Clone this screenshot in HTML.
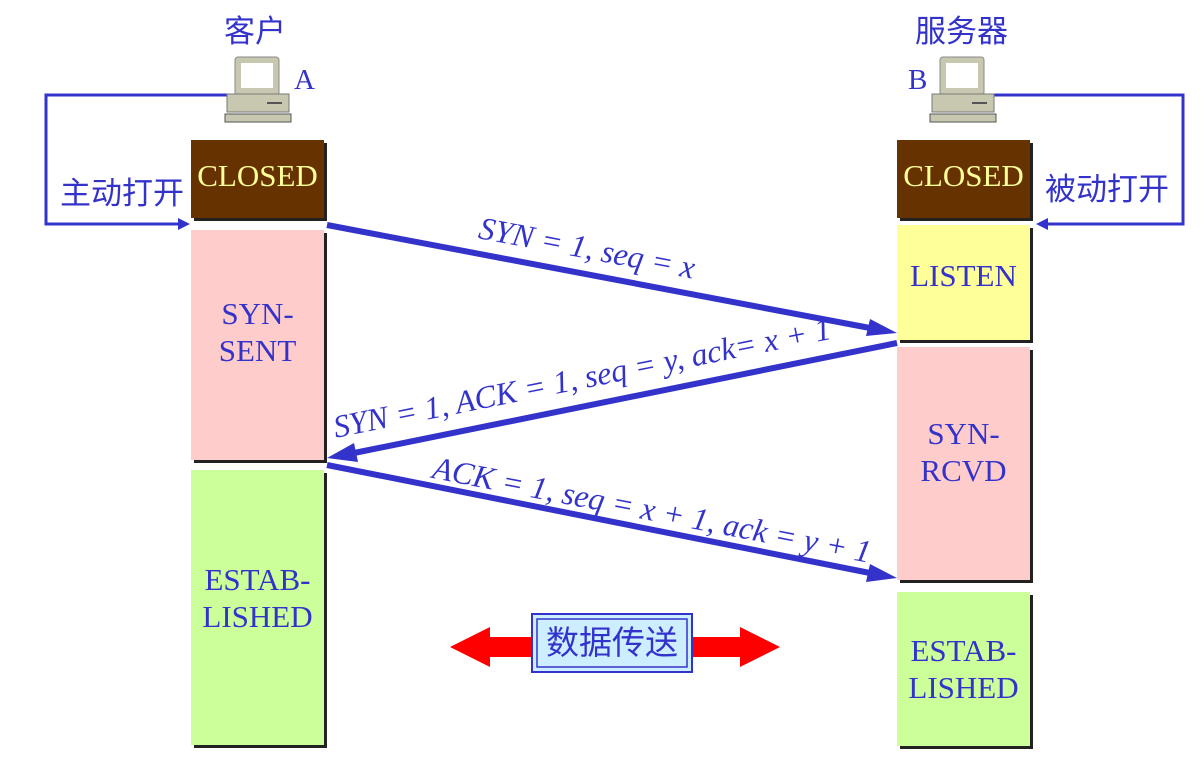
<!DOCTYPE html>
<html><head><meta charset="utf-8"><style>
body{margin:0;width:1203px;height:765px;background:#fff;position:relative;overflow:hidden;font-family:"Liberation Serif","Noto Serif CJK SC",serif;color:#3333cc}
.b{position:absolute;width:133px;box-shadow:3px 3px 0 #222;display:flex;align-items:center;justify-content:center;text-align:center;font-size:31px;line-height:37px;color:#3333cc;box-sizing:border-box}
.cn{position:absolute;font-family:"Liberation Sans","Noto Sans CJK SC",sans-serif;font-size:31px;line-height:36px;color:#3333cc}
.lbl{position:absolute;font-size:32px;font-style:italic;white-space:nowrap;width:0;height:0}
.lbl span{position:absolute;left:0;top:0;transform:translate(-50%,-50%) rotate(var(--r))}
</style></head><body>
<svg width="1203" height="765" style="position:absolute;left:0;top:0">
<polyline points="228,95 46,95 46,224 182,224" fill="none" stroke="#3333cc" stroke-width="3"/>
<path d="M190,224l-12,-6v12z" fill="#3333cc"/>
<polyline points="993,95 1183,95 1183,224 1044,224" fill="none" stroke="#3333cc" stroke-width="3"/>
<path d="M1036,224l12,-6v12z" fill="#3333cc"/>
<g stroke="#3333cc" stroke-width="6">
<line x1="327" y1="225" x2="870" y2="328"/>
<line x1="897" y1="343" x2="354" y2="453"/>
<line x1="327" y1="465" x2="870" y2="573"/>
</g>
<g fill="#3333cc">
<path d="M897,333 L866,336 L870,319 z"/>
<path d="M327,458 L354,443 L358,462 z"/>
<path d="M897,578 L866,582 L870,564 z"/>
</g>
<path d="M450,647 L490,627 L490,637 L740,637 L740,627 L780,647 L740,667 L740,657 L490,657 L490,667 z" fill="#ff0000"/>
<rect x="532" y="614" width="160" height="58" fill="#cceeff" stroke="#3333cc" stroke-width="2"/>
<rect x="537" y="619" width="150" height="48" fill="none" stroke="#3333cc" stroke-width="1.5"/>
<g id="pc">
<rect x="235" y="57" width="44" height="38" rx="3" fill="#c8c8b0" stroke="#888" />
<rect x="241" y="63" width="32" height="25" fill="#fff"/>
<rect x="227" y="94" width="62" height="18" fill="#c8c8b0" stroke="#777"/>
<line x1="267" y1="103" x2="282" y2="103" stroke="#555" stroke-width="2"/>
<rect x="225" y="114" width="66" height="8" fill="#c8c8b0" stroke="#555"/>
</g>
<use href="#pc" x="705"/>
</svg>
<div class="cn" style="left:224px;top:14px">客户</div>
<div class="cn" style="left:915px;top:14px">服务器</div>
<div style="position:absolute;left:294px;top:64px;font-size:29px">A</div>
<div style="position:absolute;left:908px;top:64px;font-size:29px">B</div>
<div class="cn" style="left:60px;top:176px">主动打开</div>
<div class="cn" style="left:1045px;top:172px">被动打开</div>
<div class="b" style="left:191px;top:140px;height:78px;background:#663300;color:#ffff99;padding-bottom:8px">CLOSED</div>
<div class="b" style="left:191px;top:230px;height:230px;background:#ffcccc;padding-bottom:26px">SYN-<br>SENT</div>
<div class="b" style="left:191px;top:470px;height:275px;background:#ccff99;padding-bottom:20px">ESTAB-<br>LISHED</div>
<div class="b" style="left:897px;top:140px;height:78px;background:#663300;color:#ffff99;padding-bottom:8px">CLOSED</div>
<div class="b" style="left:897px;top:225px;height:115px;background:#ffff99;padding-bottom:14px">LISTEN</div>
<div class="b" style="left:897px;top:347px;height:233px;background:#ffcccc;padding-bottom:24px">SYN-<br>RCVD</div>
<div class="b" style="left:897px;top:592px;height:154px;background:#ccff99">ESTAB-<br>LISHED</div>
<div class="lbl" style="left:587px;top:248px"><span style="--r:10.7deg">SYN = 1, seq = x</span></div>
<div class="lbl" style="left:582px;top:378px"><span style="--r:-11.3deg">SYN = 1, ACK = 1, seq = y, ack= x + 1</span></div>
<div class="lbl" style="left:652px;top:510px"><span style="--r:11deg">ACK = 1, seq = x + 1, ack = y + 1</span></div>
<div class="cn" style="left:546px;top:625px;font-size:33px">数据传送</div>
</body></html>
